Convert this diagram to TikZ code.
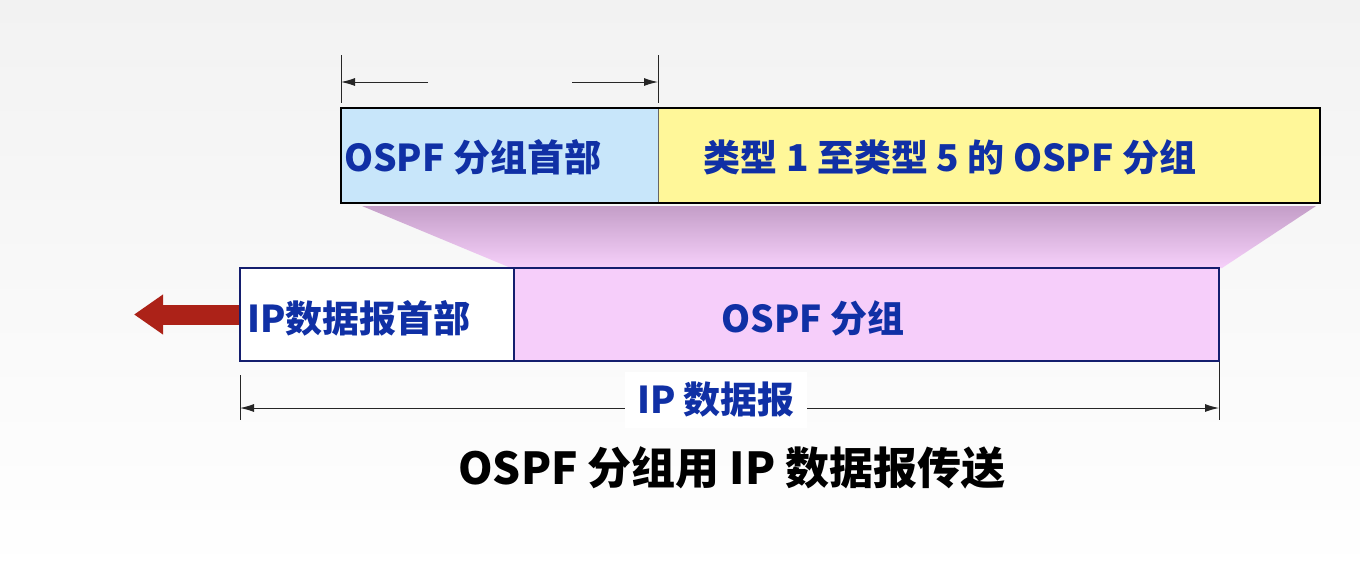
\documentclass[tikz,border=0pt]{standalone}
\usepackage{fontspec}
\newfontfamily\cjk{Noto Sans CJK SC}
\usetikzlibrary{arrows.meta}
\definecolor{txtblue}{RGB}{16,48,165}
\definecolor{hdrblue}{RGB}{200,230,250}
\definecolor{typeyel}{RGB}{255,247,153}
\definecolor{pinkbox}{RGB}{246,206,250}
\definecolor{trapTop}{RGB}{196,158,200}
\definecolor{trapBot}{RGB}{246,208,250}
\definecolor{navy}{RGB}{20,30,110}
\definecolor{arrowred}{RGB}{172,34,24}
\definecolor{bgtop}{RGB}{242,242,242}
\begin{document}
\begin{tikzpicture}[x=1pt,y=-1pt,
  box/.style={draw, inner sep=0pt, outer sep=0pt},
  lbl/.style={inner sep=0pt, text=txtblue, font=\cjk\bfseries\fontsize{37}{42}\selectfont},
  dim/.style={line width=1pt, draw=black!85},
  dimarrow/.style={line width=1pt, draw=black!85, -{Latex[length=14pt,width=8pt]}},
]
\useasboundingbox (0,0) rectangle (1360,576);
\shade[top color=bgtop, bottom color=white] (0,0) rectangle (1360,576);

% trapezoid
\shade[top color=trapTop, bottom color=trapBot] (362,206) -- (1316,206) -- (1222,268) -- (511,268) -- cycle;

% red arrow
\coordinate (redtip) at (134,314.5);
\draw[arrowred, line width=20pt, -{Triangle[length=29pt,width=38pt]}] (240,314.5) -- (redtip);

% top row
\node[box, draw=black!60, line width=0.8pt, fill=hdrblue, minimum width=317pt, minimum height=95pt] (ospfhdr) at (499.5,155.5) {};
\node[box, draw=black!60, line width=0.8pt, fill=typeyel, minimum width=662pt, minimum height=95pt] (types) at (989,155.5) {};
\draw[line width=2.2pt, black] (ospfhdr.north west) rectangle (types.south east);
\node[lbl, anchor=west] (lhdr) at (344,157) {OSPF 分组首部};
\node[lbl] (ltypes) at (950,157) {类型 1 至类型 5 的 OSPF 分组};

% bottom row
\node[box, draw=navy, line width=1.6pt, fill=white, minimum width=274pt, minimum height=93pt] (iphdr) at (377,314.5) {};
\node[box, draw=navy, line width=1.6pt, fill=pinkbox, minimum width=705pt, minimum height=93pt] (ospfpkt) at (866.5,314.5) {};
\node[lbl, anchor=west] (liphdr) at (247,318) {IP数据报首部};
\node[lbl] (lpkt) at (813,318) {OSPF 分组};

% top dimension
\coordinate (ta1) at (341,55); \coordinate (tb1) at (341,103);
\coordinate (ta2) at (658,55); \coordinate (tb2) at (658,103);
\draw[dim] (ta1) -- (tb1);
\draw[dim] (ta2) -- (tb2);
\coordinate (tls) at (428,82); \coordinate (tle) at (341,82);
\coordinate (trs) at (572,82); \coordinate (tre) at (658,82);
\draw[dimarrow] (tls) -- (tle);
\draw[dimarrow] (trs) -- (tre);

% bottom dimension
\coordinate (ba1) at (240,375); \coordinate (bb1) at (240,420);
\coordinate (ba2) at (1219,362); \coordinate (bb2) at (1219,420);
\draw[dim] (ba1) -- (bb1);
\draw[dim] (ba2) -- (bb2);
\coordinate (bl) at (240,408); \coordinate (br) at (1219,408);
\draw[dim, {Latex[length=14pt,width=8pt]}-{Latex[length=14pt,width=8pt]}] (bl) -- (br);
\node[lbl, fill=white, inner xsep=12pt, inner ysep=10pt] (ldgram) at (716,400) {IP 数据报};

% caption
\node[inner sep=0pt, text=black, font=\cjk\bfseries\fontsize{44}{50}\selectfont] (caption) at (732,468) {OSPF 分组用 IP 数据报传送};
\end{tikzpicture}
\end{document}
